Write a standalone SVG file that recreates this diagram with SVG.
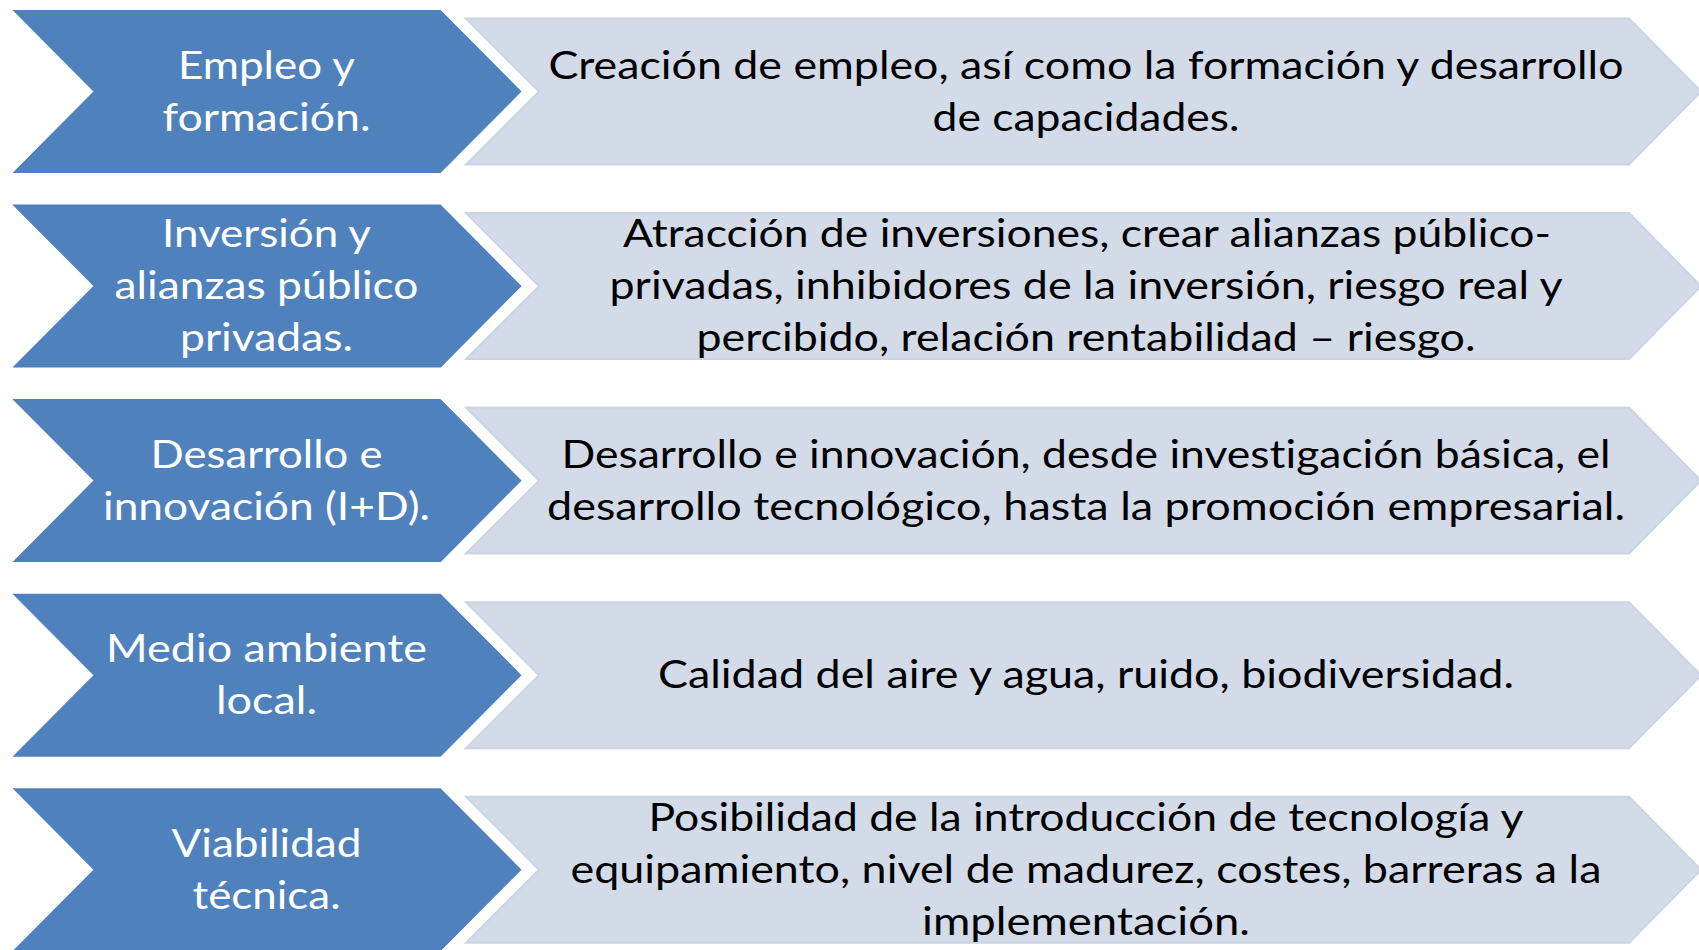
<svg xmlns="http://www.w3.org/2000/svg" width="1699" height="950" viewBox="0 0 1699 950">
<style>
.blue{fill:#4F81BD;stroke:#FFFFFF;stroke-width:2;}
.grey{fill:#D3DBE9;stroke:#CBD4E5;stroke-width:2;}
.bt{font-family:"Lato","Liberation Sans",sans-serif;font-size:39px;fill:#FFFFFF;text-anchor:middle;font-variant-ligatures:none;}
.gt{font-family:"Lato","Liberation Sans",sans-serif;font-size:39px;fill:#000000;text-anchor:middle;font-variant-ligatures:none;}
</style>
<rect width="1699" height="950" fill="#FFFFFF"/>
<g id="row1">
<path class="grey" d="M466,18.5 L1629,18.5 L1701,91.5 L1629,164.5 L466,164.5 L539,91.5 Z"/>
<path class="blue" d="M10,9 L441,9 L523,91.5 L441,174 L10,174 L92,91.5 Z"/>
<text class="bt" x="266.5" y="78.5" textLength="177" lengthAdjust="spacingAndGlyphs">Empleo y</text>
<text class="bt" x="266.5" y="130.5" textLength="208" lengthAdjust="spacingAndGlyphs">formación.</text>
<text class="gt" x="1086" y="78.5" textLength="1075" lengthAdjust="spacingAndGlyphs">Creación de empleo, así como la formación y desarrollo</text>
<text class="gt" x="1086" y="130.5" textLength="307" lengthAdjust="spacingAndGlyphs">de capacidades.</text>
</g>
<g id="row2">
<path class="grey" d="M466,213.1 L1629,213.1 L1701,286.1 L1629,359.1 L466,359.1 L539,286.1 Z"/>
<path class="blue" d="M10,203.6 L441,203.6 L523,286.1 L441,368.6 L10,368.6 L92,286.1 Z"/>
<text class="bt" x="266.5" y="247" textLength="209" lengthAdjust="spacingAndGlyphs">Inversión y</text>
<text class="bt" x="266.5" y="299" textLength="304" lengthAdjust="spacingAndGlyphs">alianzas público</text>
<text class="bt" x="266.5" y="351" textLength="173" lengthAdjust="spacingAndGlyphs">privadas.</text>
<text class="gt" x="1087" y="247" textLength="928" lengthAdjust="spacingAndGlyphs">Atracción de inversiones, crear alianzas público-</text>
<text class="gt" x="1086" y="299" textLength="953" lengthAdjust="spacingAndGlyphs">privadas, inhibidores de la inversión, riesgo real y</text>
<text class="gt" x="1086" y="351" textLength="779" lengthAdjust="spacingAndGlyphs">percibido, relación rentabilidad – riesgo.</text>
</g>
<g id="row3">
<path class="grey" d="M466,407.6 L1629,407.6 L1701,480.6 L1629,553.6 L466,553.6 L539,480.6 Z"/>
<path class="blue" d="M10,398.1 L441,398.1 L523,480.6 L441,563.1 L10,563.1 L92,480.6 Z"/>
<text class="bt" x="266.5" y="467.6" textLength="232" lengthAdjust="spacingAndGlyphs">Desarrollo e</text>
<text class="bt" x="266.5" y="519.6" textLength="327" lengthAdjust="spacingAndGlyphs">innovación (I+D).</text>
<text class="gt" x="1086" y="467.6" textLength="1049" lengthAdjust="spacingAndGlyphs">Desarrollo e innovación, desde investigación básica, el</text>
<text class="gt" x="1086" y="519.6" textLength="1078" lengthAdjust="spacingAndGlyphs">desarrollo tecnológico, hasta la promoción empresarial.</text>
</g>
<g id="row4">
<path class="grey" d="M466,602.2 L1629,602.2 L1701,675.2 L1629,748.2 L466,748.2 L539,675.2 Z"/>
<path class="blue" d="M10,592.7 L441,592.7 L523,675.2 L441,757.7 L10,757.7 L92,675.2 Z"/>
<text class="bt" x="266.5" y="662" textLength="321" lengthAdjust="spacingAndGlyphs">Medio ambiente</text>
<text class="bt" x="266.5" y="714" textLength="101" lengthAdjust="spacingAndGlyphs">local.</text>
<text class="gt" x="1086" y="688" textLength="856" lengthAdjust="spacingAndGlyphs">Calidad del aire y agua, ruido, biodiversidad.</text>
</g>
<g id="row5">
<path class="grey" d="M466,796.7 L1629,796.7 L1701,869.7 L1629,942.7 L466,942.7 L539,869.7 Z"/>
<path class="blue" d="M10,787.2 L441,787.2 L523,869.7 L441,952.2 L10,952.2 L92,869.7 Z"/>
<text class="bt" x="266.5" y="857" textLength="190" lengthAdjust="spacingAndGlyphs">Viabilidad</text>
<text class="bt" x="266.5" y="909" textLength="148" lengthAdjust="spacingAndGlyphs">técnica.</text>
<text class="gt" x="1086" y="831" textLength="875" lengthAdjust="spacingAndGlyphs">Posibilidad de la introducción de tecnología y</text>
<text class="gt" x="1086" y="883" textLength="1031" lengthAdjust="spacingAndGlyphs">equipamiento, nivel de madurez, costes, barreras a la</text>
<text class="gt" x="1086" y="935" textLength="328" lengthAdjust="spacingAndGlyphs">implementación.</text>
</g>
<g id="connectors"></g>
</svg>
